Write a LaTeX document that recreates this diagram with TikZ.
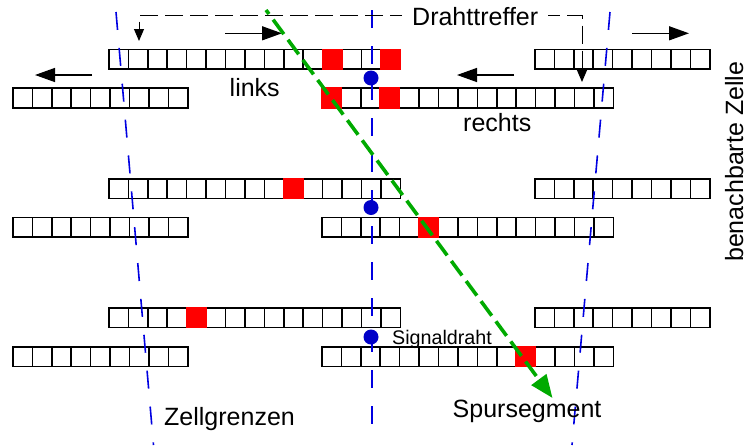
\documentclass[tikz,border=0pt]{standalone}
\usepackage{fontspec}
\setmainfont{Liberation Sans}
\usetikzlibrary{arrows.meta}
\definecolor{wireblue}{RGB}{0,0,225}
\definecolor{dotblue}{RGB}{0,0,200}
\definecolor{trackgreen}{RGB}{0,170,0}
\tikzset{
  cell/.style={draw=black,line width=1.6pt,fill=white},
  hit/.style={fill=red,draw=none},
  boundary/.style={draw=wireblue,line width=1.6pt,dash pattern=on 18pt off 18pt},
  track/.style={draw=trackgreen,line width=3.6pt,dash pattern=on 18pt off 7pt,dash phase=13pt,-{Triangle[length=23pt,width=18pt]}},
  drift/.style={draw=black,line width=1.4pt,-{Triangle[length=20pt,width=14pt]}},
  pointer/.style={draw=black,line width=1pt,dash pattern=on 18pt off 7pt,dash phase=6pt,-{Triangle[length=12pt,width=10pt]}},
  label/.style={inner sep=0pt,anchor=base west,font=\fontsize{25}{30}\selectfont},
  smalllabel/.style={inner sep=0pt,anchor=base west,font=\fontsize{19.7}{24}\selectfont},
  wiredot/.style={circle,fill=dotblue,draw=none,minimum size=15pt,inner sep=0pt},
}
% \cellrow{left x}{top y}{cells}
\newcommand{\cellrow}[3]{%
  \foreach \i in {1,...,#3}{%
    \draw[cell] ({#1+(\i-1)*19.42},#2) rectangle ({#1+\i*19.42},{#2+19.6});
  }}
% \hitcell{left x}{top y}{index from 0}
\newcommand{\hitcell}[3]{%
  \fill[hit] ({#1+#3*19.42-.8},{#2-.8}) rectangle ({#1+(#3+1)*19.42+.8},{#2+20.4});}
\begin{document}
\begin{tikzpicture}[x=1pt,y=-1pt]
\useasboundingbox (0,0) rectangle (745,445);
% upper and lower layer rows
\cellrow{109}{49.5}{15}
\cellrow{13}{88.2}{9}
\cellrow{322}{88.2}{15}
\cellrow{535}{49.5}{9}
\cellrow{109}{179}{15}
\cellrow{13}{217.6}{9}
\cellrow{322}{217.6}{15}
\cellrow{535}{179}{9}
\cellrow{109}{307.8}{15}
\cellrow{13}{346.8}{9}
\cellrow{322}{346.8}{15}
\cellrow{535}{307.8}{9}
% hit cells
\hitcell{109}{49.5}{11}
\hitcell{109}{49.5}{14}
\hitcell{322}{88.2}{0}
\hitcell{322}{88.2}{3}
\hitcell{109}{179}{9}
\hitcell{322}{217.6}{5}
\hitcell{109}{307.8}{4}
\hitcell{322}{346.8}{10}
% cell boundaries
\coordinate (bl1) at (116,12);
\coordinate (bl2) at (153.5,445);
\coordinate (bc1) at (372,10);
\coordinate (bc2) at (372,425);
\coordinate (br1) at (610,12);
\coordinate (br2) at (572,445);
\draw[boundary] (bl1) -- (bl2);
\draw[boundary] (bc1) -- (bc2);
\draw[boundary] (br1) -- (br2);
% signal wires
\node[wiredot] (w1) at (371,78) {};
\node[wiredot] (w2) at (371,207.5) {};
\node[wiredot] (w3) at (371,337) {};
% labels
\node[label] (drahttreffer) at (412,25) {Drahttreffer};
\node[label] (links) at (229.5,96.5) {links};
\node[label] (rechts) at (463,131.5) {rechts};
\node[label] (zellgrenzen) at (164,425) {Zellgrenzen};
\node[label] (spursegment) at (452.5,417) {Spursegment};
\node[smalllabel] (signaldraht) at (392,344) {Signaldraht};
\node[label,rotate=90] (zelle) at (743,262) {benachbarte Zelle};
% pointers to the wire hits
\coordinate (pl1) at (402,15.5);
\coordinate (pl2) at (139,15.5);
\coordinate (pl3) at (139,41);
\coordinate (pr1) at (548,15.5);
\coordinate (pr2) at (582,15.5);
\coordinate (pr3) at (582,82);
\draw[pointer] (pl1) -- (pl2) -- (pl3);
\draw[pointer] (pr1) -- (pr2) -- (pr3);
% drift direction arrows
\coordinate (a1s) at (225,33.3); \coordinate (a1e) at (282,33.3);
\coordinate (a2s) at (92,75); \coordinate (a2e) at (35,75);
\coordinate (a3s) at (632,33.3); \coordinate (a3e) at (689,33.3);
\coordinate (a4s) at (514,75); \coordinate (a4e) at (457,75);
\draw[drift] (a1s) -- (a1e);
\draw[drift] (a2s) -- (a2e);
\draw[drift] (a3s) -- (a3e);
\draw[drift] (a4s) -- (a4e);
% track segment
\coordinate (t1) at (266,10);
\coordinate (t2) at (552.5,398);
\draw[track] (t1) -- (t2);
\end{tikzpicture}
\end{document}
